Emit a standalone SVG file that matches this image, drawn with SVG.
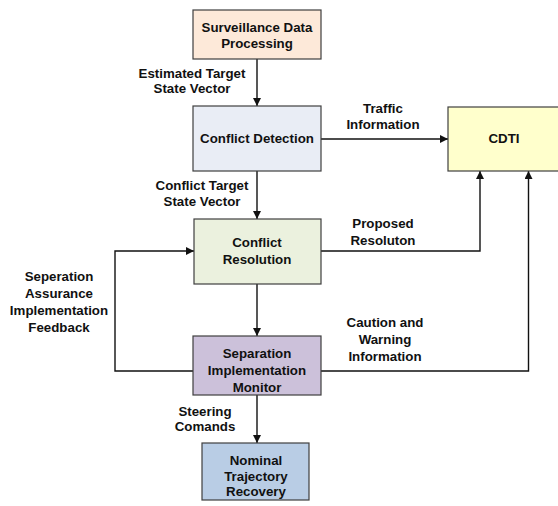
<svg xmlns="http://www.w3.org/2000/svg" width="558" height="506" viewBox="0 0 558 506">
  <style>
    .box { stroke: #3f3f3f; stroke-width: 1.2; }
    .lbl { font-family: "Liberation Sans", Arial, sans-serif; font-size: 13.3px; font-weight: bold; fill: #111; text-anchor: middle; }
    .wire { fill: none; stroke: #111; stroke-width: 1.4; }
  </style>
  <defs>
    <marker id="arrow" viewBox="0 0 10 10" refX="10" refY="5" markerWidth="8" markerHeight="8" markerUnits="userSpaceOnUse" orient="auto">
      <path d="M0,0 L10,5 L0,10 z" fill="#111"/>
    </marker>
  </defs>
  <rect width="558" height="506" fill="#ffffff"/>

  <!-- connectors -->
  <g id="connectors">
    <path class="wire" d="M257,59 V106" marker-end="url(#arrow)"/>
    <path class="wire" d="M321,139 H448" marker-end="url(#arrow)"/>
    <path class="wire" d="M257,171 V219" marker-end="url(#arrow)"/>
    <path class="wire" d="M321,251 H480 V171" marker-end="url(#arrow)"/>
    <path class="wire" d="M257,284 V336" marker-end="url(#arrow)"/>
    <path class="wire" d="M193,371 H115 V251 H194" marker-end="url(#arrow)"/>
    <path class="wire" d="M321,371 H528.5 V171" marker-end="url(#arrow)"/>
    <path class="wire" d="M257,395 V443" marker-end="url(#arrow)"/>
  </g>

  <!-- connector labels -->
  <g id="labels">
    <text class="lbl" x="192" y="78">Estimated Target</text>
    <text class="lbl" x="192" y="93">State Vector</text>
    <text class="lbl" x="383" y="113">Traffic</text>
    <text class="lbl" x="383" y="129">Information</text>
    <text class="lbl" x="202" y="190">Conflict Target</text>
    <text class="lbl" x="202" y="206">State Vector</text>
    <text class="lbl" x="383" y="228">Proposed</text>
    <text class="lbl" x="383" y="245">Resoluton</text>
    <text class="lbl" x="59" y="281">Seperation</text>
    <text class="lbl" x="59" y="298">Assurance</text>
    <text class="lbl" x="59" y="315">Implementation</text>
    <text class="lbl" x="59" y="332">Feedback</text>
    <text class="lbl" x="385" y="327">Caution and</text>
    <text class="lbl" x="385" y="344">Warning</text>
    <text class="lbl" x="385" y="361">Information</text>
    <text class="lbl" x="205" y="416">Steering</text>
    <text class="lbl" x="205" y="431">Comands</text>
  </g>

  <g id="surveillance">
    <rect class="box" x="193" y="10" width="128" height="49" fill="#fde9d9"/>
    <text class="lbl" x="257" y="32">Surveillance Data</text>
    <text class="lbl" x="257" y="48">Processing</text>
  </g>

  <g id="detection">
    <rect class="box" x="193" y="106" width="128" height="65" fill="#e9edf5"/>
    <text class="lbl" x="257" y="143">Conflict Detection</text>
  </g>

  <g id="cdti">
    <rect class="box" x="448" y="107" width="114" height="64" fill="#ffffcc"/>
    <text class="lbl" x="504" y="143">CDTI</text>
  </g>

  <g id="resolution">
    <rect class="box" x="194" y="219" width="127" height="65" fill="#ebf1de"/>
    <text class="lbl" x="257" y="247">Conflict</text>
    <text class="lbl" x="257" y="264">Resolution</text>
  </g>

  <g id="monitor">
    <rect class="box" x="193" y="336" width="128" height="59" fill="#ccc1da"/>
    <text class="lbl" x="257" y="358">Separation</text>
    <text class="lbl" x="257" y="375">Implementation</text>
    <text class="lbl" x="257" y="392">Monitor</text>
  </g>

  <g id="recovery">
    <rect class="box" x="202" y="443" width="107" height="57" fill="#b9cde5"/>
    <text class="lbl" x="256" y="465">Nominal</text>
    <text class="lbl" x="256" y="481">Trajectory</text>
    <text class="lbl" x="256" y="496">Recovery</text>
  </g>
</svg>
